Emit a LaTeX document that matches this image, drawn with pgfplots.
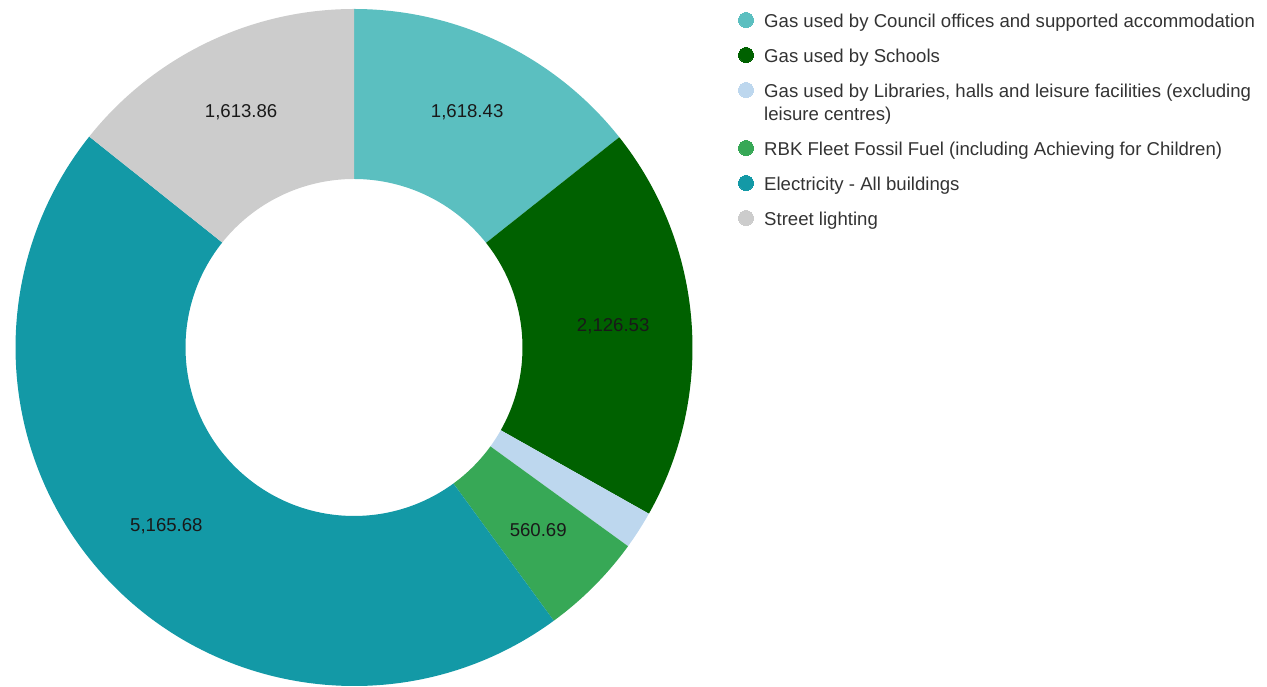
\documentclass[border=0pt]{standalone}
\usepackage{pgfplots}
\pgfplotsset{compat=1.18}
\usepackage{pgfplotstable}
\usepackage{fontspec}
\setmainfont{Liberation Sans}
\definecolor{c1}{HTML}{5BBFC0}
\definecolor{c2}{HTML}{006100}
\definecolor{c3}{HTML}{BDD7EE}
\definecolor{c4}{HTML}{37A856}
\definecolor{c5}{HTML}{1399A6}
\definecolor{c6}{HTML}{CCCCCC}
\tikzset{legtext/.style={anchor=base west,inner sep=0pt,text=black!80,font=\fontsize{18.6pt}{23pt}\selectfont}}
\pgfplotsset{legmark/.style={only marks,mark=*,mark size=7.5pt,color=#1,mark options={draw=#1,fill=#1,line width=0pt}}}
\pgfplotstableread{
value col show
1618.43 c1 1
2126.53 c2 1
205 c3 0
560.69 c4 1
5165.68 c5 1
1613.86 c6 1
}\piedata
\begin{document}
\begin{tikzpicture}
\pgfplotstablegetrowsof{\piedata}
\pgfmathtruncatemacro\lastrow{\pgfplotsretval-1}
\gdef\total{0}
\foreach \i in {0,...,\lastrow}{%
 \pgfplotstablegetelem{\i}{value}\of\piedata
 \pgfmathsetmacro\t{\total+\pgfplotsretval}%
 \xdef\total{\t}}
\begin{axis}[width=1267pt,height=687pt,scale only axis,
 xmin=0,xmax=1267,ymin=0,ymax=687,hide axis,clip=false]
\pgfplotsextra{%
 \gdef\cum{0}%
 \foreach \i in {0,...,\lastrow}{%
  \pgfplotstablegetelem{\i}{value}\of\piedata \let\vv\pgfplotsretval
  \pgfplotstablegetelem{\i}{col}\of\piedata \let\slicecol\pgfplotsretval
  \pgfplotstablegetelem{\i}{show}\of\piedata \let\showit\pgfplotsretval
  \pgfmathsetmacro\angA{90-(\cum/\total)*360}%
  \pgfmathsetmacro\angB{90-((\cum+\vv)/\total)*360}%
  \fill[\slicecol] (axis cs:{354+338.5*cos(\angA)},{339.5+338.5*sin(\angA)})
    arc[start angle=\angA,end angle=\angB,radius=338.5pt]
    -- (axis cs:{354+168.5*cos(\angB)},{339.5+168.5*sin(\angB)})
    arc[start angle=\angB,end angle=\angA,radius=168.5pt] -- cycle;
  \pgfmathsetmacro\angM{(\angA+\angB)/2}%
  \ifnum\showit=1
   \node[font=\fontsize{18.6pt}{22pt}\selectfont,text=black!90,inner sep=0pt]
     at (axis cs:{354+260*cos(\angM)},{340.5+260*sin(\angM)})
     {\pgfmathprintnumber[fixed,fixed zerofill,precision=2,1000 sep={,},assume math mode=true]{\vv}};
  \fi
  \pgfmathsetmacro\nc{\cum+\vv}%
  \xdef\cum{\nc}%
 }%
}
% legend
\addplot[legmark=c1] coordinates {(746,667)};
\addplot[legmark=c2] coordinates {(746,632)};
\addplot[legmark=c3] coordinates {(746,597)};
\addplot[legmark=c4] coordinates {(746,539)};
\addplot[legmark=c5] coordinates {(746,504)};
\addplot[legmark=c6] coordinates {(746,469)};
\node[legtext] at (axis cs:764,659) {Gas used by Council offices and supported accommodation};
\node[legtext] at (axis cs:764,624) {Gas used by Schools};
\node[legtext] at (axis cs:764,589) {Gas used by Libraries, halls and leisure facilities (excluding};
\node[legtext] at (axis cs:764,566) {leisure centres)};
\node[legtext] at (axis cs:764,531) {RBK Fleet Fossil Fuel (including Achieving for Children)};
\node[legtext] at (axis cs:764,496) {Electricity - All buildings};
\node[legtext] at (axis cs:764,461) {Street lighting};
\end{axis}
\pgfresetboundingbox
\path (current axis.south west) rectangle (current axis.north east);
\end{tikzpicture}
\end{document}
